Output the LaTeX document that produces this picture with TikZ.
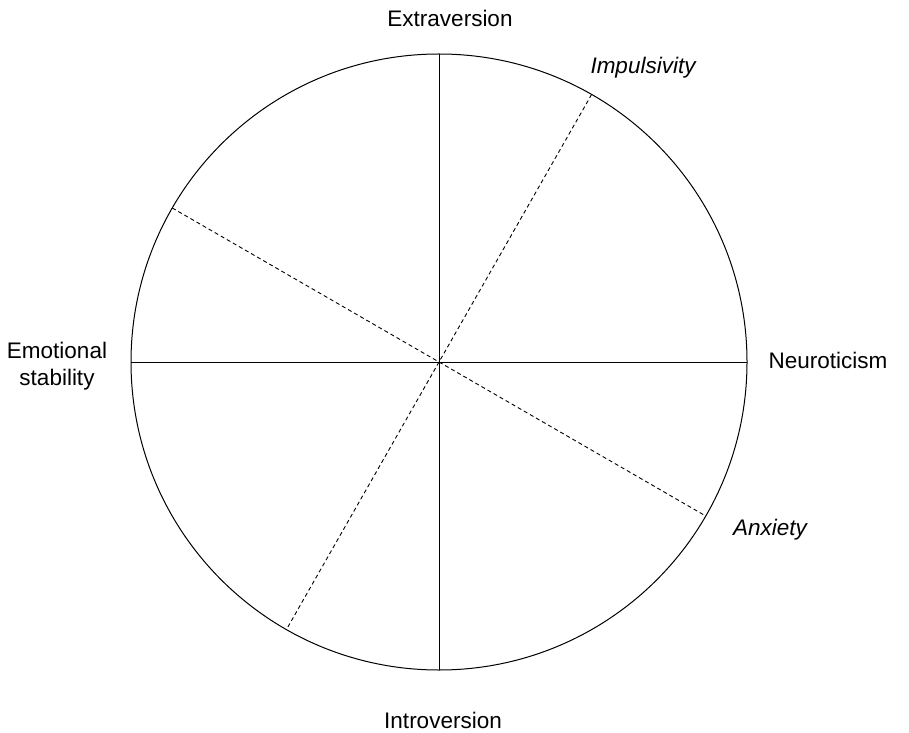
\documentclass[tikz,border=0pt]{standalone}
\usepackage{fontspec}
\setmainfont{Liberation Sans}
\usetikzlibrary{calc}
\begin{document}
\begin{tikzpicture}[x=1pt,y=1pt,
  axis/.style={line width=1pt,black},
  dashaxis/.style={line width=0.9pt,black,dash pattern=on 4pt off 3pt},
  lbl/.style={font=\fontsize{22.5}{27}\selectfont,inner sep=0pt,align=center},
  ilbl/.style={lbl,font=\fontsize{22.5}{27}\selectfont\itshape}]
\useasboundingbox (0,0) rectangle (909,732);
\coordinate (O) at (439,370);
\draw[axis] (O) circle (308);
\coordinate (T) at ($(O)+(90:308)$);
\coordinate (B) at ($(O)+(270:308)$);
\coordinate (L) at ($(O)+(180:308)$);
\coordinate (R) at ($(O)+(0:308)$);
\coordinate (D1a) at ($(O)+(60.3:308)$);
\coordinate (D1b) at ($(O)+(240.3:308)$);
\coordinate (D2a) at ($(O)+(150:308)$);
\coordinate (D2b) at ($(O)+(330:308)$);
\draw[axis] (T) -- (B);
\draw[axis] (L) -- (R);
\draw[dashaxis] (D1a) -- (D1b);
\draw[dashaxis] (D2a) -- (D2b);
\node[lbl] (ext) at (450,714) {Extraversion};
\node[ilbl] (imp) at (643,664) {Impulsivity};
\node[lbl] (neu) at (828,372) {Neuroticism};
\node[lbl] (emo) at (57,366) {Emotional\\stability};
\node[ilbl] (anx) at (770,202) {Anxiety};
\node[lbl] (intro) at (443,12) {Introversion};
\end{tikzpicture}
\end{document}
